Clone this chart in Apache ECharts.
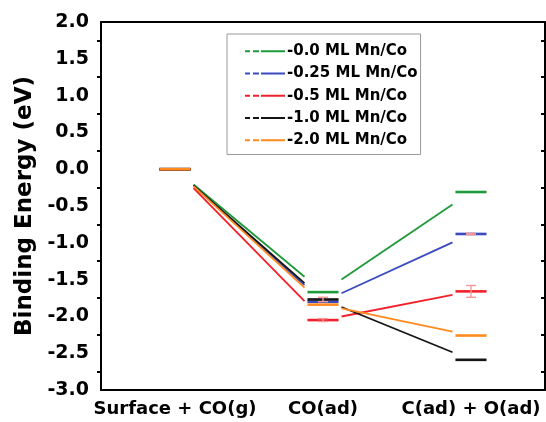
<!DOCTYPE html>
<html lang="en">
<head>
    <meta charset="UTF-8">
    <title>Binding Energy</title>
    <script type="text/javascript" src="https://cdn.jsdelivr.net/npm/echarts@6/dist/echarts.min.js"></script>
</head>
<body style="margin:0;background:#fff;">
<div id="chart" style="width:546px;height:422px;"></div>
<script>
    // states along the reaction path
    var steps = ['Surface + CO(g)', 'CO(ad)', 'C(ad) + O(ad)'];
    var names = ['0.0 ML Mn/Co', '0.25 ML Mn/Co', '0.5 ML Mn/Co', '1.0 ML Mn/Co', '2.0 ML Mn/Co'];
    var colors = ['#1f9a3a', '#3a4abf', '#f2202a', '#151515', '#ff8a1e'];

    // binding energies (eV)
    var e00 = [0, -1.67, -0.31];
    var e025 = [0, -1.80, -0.88];
    var e05 = [0, -2.05, -1.66];
    var e10 = [0, -1.77, -2.59];
    var e20 = [0, -1.84, -2.26];
    // error bars (eV)
    var err00 = [0, 0, 0];
    var err025 = [0, 0, 0.01];
    var err05 = [0, 0.02, 0.08];
    var err10 = [0, 0.03, 0];
    var err20 = [0, 0, 0];

    var allE = [e00, e025, e05, e10, e20];
    var allErr = [err00, err025, err05, err10, err20];

    function makeRender(vals, errs, color) {
        return function (params, api) {
            var i = params.dataIndex;
            var p = api.coord([i, vals[i]]);
            var w = api.size([1, 0])[0];
            var half = w * 0.105;
            var children = [{
                type: 'line',
                shape: {x1: p[0] - half, y1: p[1], x2: p[0] + half, y2: p[1]},
                style: {stroke: color, lineWidth: 2.6}
            }];
            if (i + 1 < vals.length) {
                var q = api.coord([i + 1, vals[i + 1]]);
                var f = (w * 0.125) / (q[0] - p[0]);
                children.push({
                    type: 'line',
                    shape: {
                        x1: p[0] + f * (q[0] - p[0]), y1: p[1] + f * (q[1] - p[1]),
                        x2: q[0] - f * (q[0] - p[0]), y2: q[1] - f * (q[1] - p[1])
                    },
                    style: {stroke: color, lineWidth: 1.8}
                });
            }
            if (errs[i] > 0) {
                var t = api.coord([i, vals[i] + errs[i]]);
                var b = api.coord([i, vals[i] - errs[i]]);
                var ec = '#f59a9a';
                children.push({type: 'line', shape: {x1: p[0], y1: t[1], x2: p[0], y2: b[1]}, style: {stroke: ec, lineWidth: 1.4}});
                children.push({type: 'line', shape: {x1: p[0] - 5, y1: t[1], x2: p[0] + 5, y2: t[1]}, style: {stroke: ec, lineWidth: 1.4}});
                children.push({type: 'line', shape: {x1: p[0] - 5, y1: b[1], x2: p[0] + 5, y2: b[1]}, style: {stroke: ec, lineWidth: 1.4}});
            }
            return {type: 'group', children: children};
        };
    }

    var series = [];
    for (var s = 0; s < allE.length; s++) {
        var d = [];
        for (var k = 0; k < allE[s].length; k++) {
            d.push([k, allE[s][k], allErr[s][k]]);
        }
        series.push({
            name: names[s],
            type: 'custom',
            itemStyle: {color: colors[s]},
            renderItem: makeRender(allE[s], allErr[s], colors[s]),
            data: d,
            z: 2 + s
        });
    }

    var font = 'DejaVu Sans';
    var axisLine = {show: true, onZero: false, lineStyle: {color: '#000', width: 2}};

    var option = {
        animation: false,
        backgroundColor: '#fff',
        grid: {left: 101, right: 1, top: 22, bottom: 32},
        legend: {
            orient: 'vertical',
            left: 227,
            top: 34,
            padding: [6, 3, 3, 18],
            borderColor: '#999',
            borderWidth: 1,
            itemGap: 0,
            itemWidth: 40,
            itemHeight: 2,
            icon: 'path://M0,0h5v2h-5z M8,0h6v2h-6z M16,0h24v2h-24z',
            formatter: function (n) { return '-' + n; },
            textStyle: {fontFamily: font, fontWeight: 'bold', fontSize: 15, color: '#000', lineHeight: 22.3, padding: [0, 0, 0, -3]},
            data: names
        },
        xAxis: [{
            type: 'category',
            data: steps,
            position: 'bottom',
            boundaryGap: true,
            axisLine: axisLine,
            axisTick: {alignWithLabel: true, length: 6, lineStyle: {color: '#000', width: 2}},
            axisLabel: {interval: 0, fontFamily: font, fontWeight: 'bold', fontSize: 18, color: '#000', margin: 10},
            splitLine: {show: false}
        }, {
            type: 'category',
            data: steps,
            position: 'top',
            axisLine: axisLine,
            axisTick: {show: false},
            axisLabel: {show: false}
        }],
        yAxis: [{
            type: 'value',
            min: -3,
            max: 2,
            interval: 0.5,
            position: 'left',
            name: 'Binding Energy (eV)',
            nameLocation: 'middle',
            nameGap: 64,
            nameTextStyle: {fontFamily: font, fontWeight: 'bold', fontSize: 23, color: '#000'},
            axisLine: axisLine,
            axisTick: {length: 7, lineStyle: {color: '#000', width: 2}},
            minorTick: {show: true, splitNumber: 2, length: 4, lineStyle: {color: '#000', width: 2}},
            axisLabel: {
                fontFamily: font, fontWeight: 'bold', fontSize: 19, color: '#000', margin: 12,
                formatter: function (v) { return v.toFixed(1); }
            },
            splitLine: {show: false}
        }, {
            type: 'value',
            min: -3,
            max: 2,
            interval: 0.5,
            position: 'right',
            axisLine: axisLine,
            axisTick: {inside: true, length: 7, lineStyle: {color: '#000', width: 2}},
            minorTick: {show: true, splitNumber: 2, length: 4, lineStyle: {color: '#000', width: 2}},
            axisLabel: {show: false},
            splitLine: {show: false}
        }],
        series: series
    };

    var myChart = echarts.init(document.getElementById('chart'));
    myChart.setOption(option);
</script>
</body>
</html>
